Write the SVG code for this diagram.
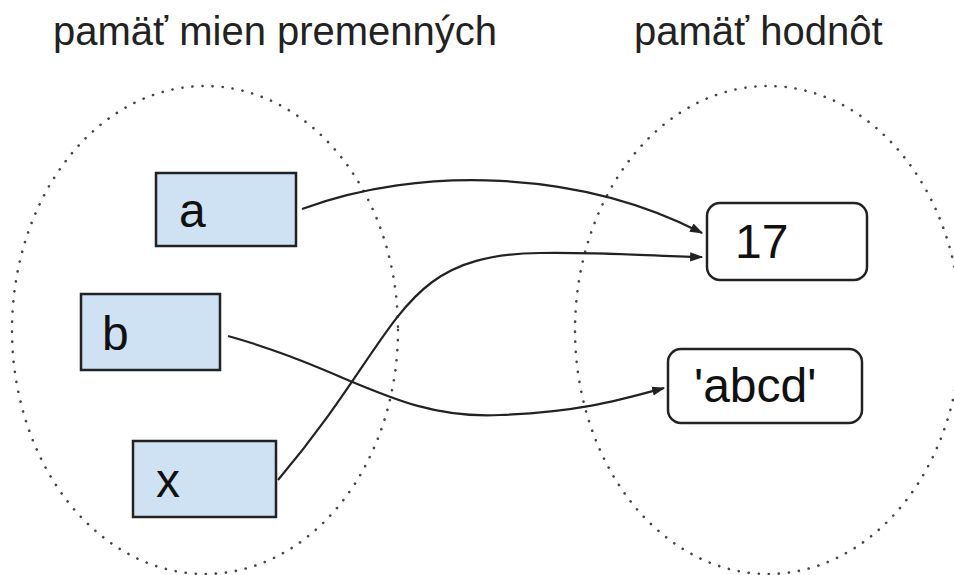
<svg xmlns="http://www.w3.org/2000/svg" width="954" height="575" viewBox="0 0 954 575">
  <style>
    .title { font-family: "Liberation Sans", Arial, sans-serif; font-size: 40px; fill: #222; }
    .label { font-family: "Liberation Sans", Arial, sans-serif; font-size: 48px; fill: #111; }
    .zone { fill: none; stroke: #444; stroke-width: 2.6; stroke-dasharray: 0.1 10; stroke-linecap: round; }
    .var { fill: #cfe2f3; stroke: #222; stroke-width: 2.5; }
    .val { fill: #fff; stroke: #222; stroke-width: 2.5; }
    .link { fill: none; stroke: #222; stroke-width: 2.2; marker-end: url(#arrow); }
  </style>
  <defs>
    <marker id="arrow" viewBox="0 0 10 10" refX="9" refY="5" markerWidth="6" markerHeight="6" orient="auto" markerUnits="strokeWidth">
      <path d="M0,1.5 L10,5 L0,8.5 Z" fill="#222"/>
    </marker>
  </defs>
  <rect width="954" height="575" fill="#fff"/>

  <!-- memory areas -->
  <g id="names-area">
    <ellipse class="zone" cx="205" cy="330" rx="193" ry="244"/>
    <text class="title" x="53" y="45">pamäť mien premenných</text>
  </g>
  <g id="values-area">
    <ellipse class="zone" cx="768" cy="330" rx="193" ry="244"/>
    <text class="title" x="634" y="45">pamäť hodnôt</text>
  </g>

  <!-- variable names -->
  <g id="var-a">
    <rect class="var" x="156" y="173" width="140" height="73"/>
    <text class="label" x="179" y="227">a</text>
  </g>
  <g id="var-b">
    <rect class="var" x="81" y="294" width="139" height="76"/>
    <text class="label" x="102" y="350">b</text>
  </g>
  <g id="var-x">
    <rect class="var" x="133" y="441" width="143" height="76"/>
    <text class="label" x="156" y="497">x</text>
  </g>

  <!-- values -->
  <g id="val-17">
    <rect class="val" x="707" y="203" width="160" height="77" rx="13"/>
    <text class="label" x="735" y="258">17</text>
  </g>
  <g id="val-abcd">
    <rect class="val" x="668" y="349" width="194" height="74" rx="13"/>
    <text class="label" x="694" y="402">'abcd'</text>
  </g>

  <!-- references -->
  <g id="connectors">
    <path class="link" d="M302,209 C420,165 580,170 702,233"/>
    <path class="link" d="M278,480 C405,330 395,255 540,253 C600,252 650,256 702,257"/>
    <path class="link" d="M228,336 C350,370 400,420 500,415 C580,412 620,400 664,388"/>
  </g>
</svg>
